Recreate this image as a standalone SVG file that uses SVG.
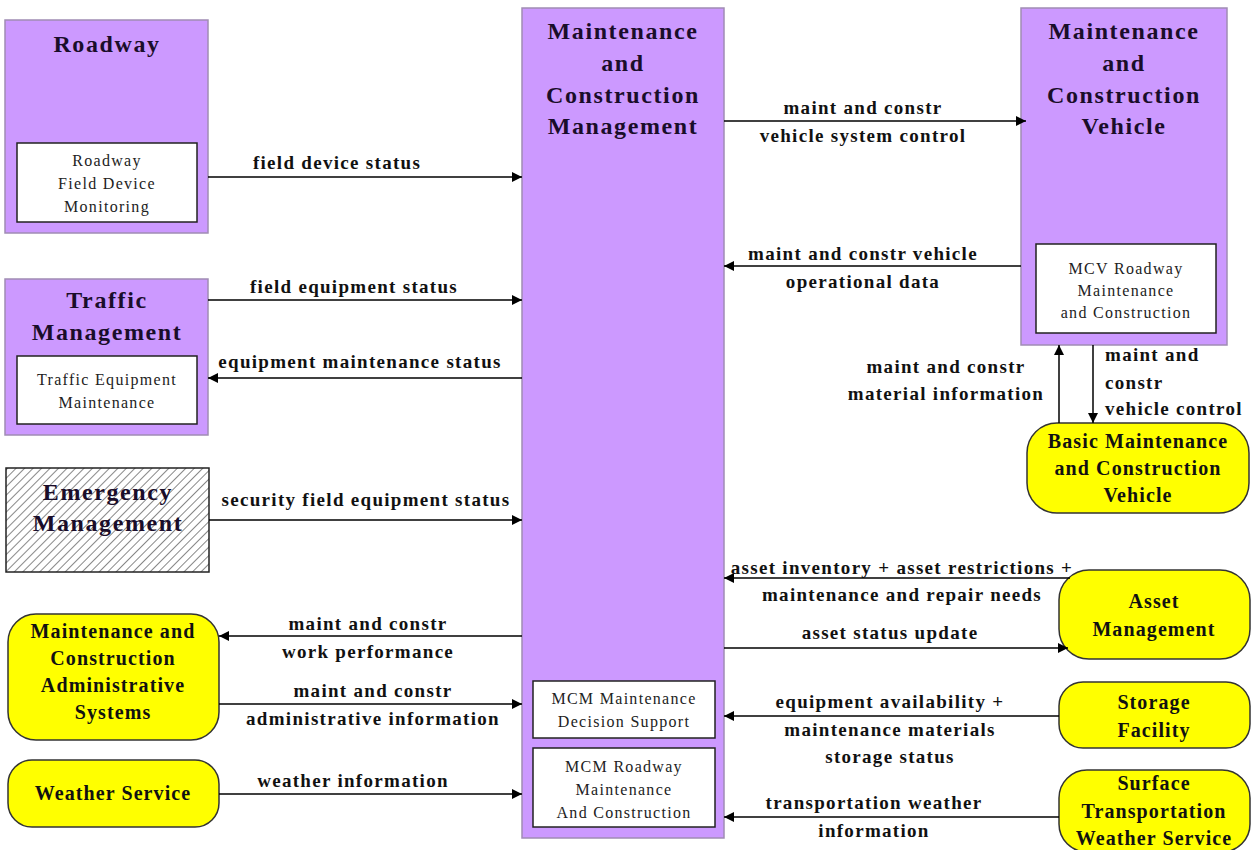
<svg xmlns="http://www.w3.org/2000/svg" width="1255" height="850" viewBox="0 0 1255 850">
<defs>
<marker id="ah" viewBox="0 0 10 10" refX="10" refY="5" markerWidth="10" markerHeight="10" markerUnits="userSpaceOnUse" orient="auto"><path d="M0,0 L10,5 L0,10 z" fill="#000"/></marker>
<pattern id="hatch" patternUnits="userSpaceOnUse" width="6" height="6" patternTransform="rotate(45)"><rect width="6" height="6" fill="#fff"/><line x1="0" y1="0" x2="0" y2="6" stroke="#888" stroke-width="2"/></pattern>
<style>
.p{fill:#cc99ff;stroke:#a08cb4;stroke-width:1.5}
.y{fill:#ffff00;stroke:#333;stroke-width:1.5}
.w{fill:#fff;stroke:#222;stroke-width:1.5}
.h{fill:url(#hatch);stroke:#222;stroke-width:1.5}
text{font-family:"Liberation Serif","Times New Roman","DejaVu Serif",serif}
.t{font-weight:bold;font-size:24px;letter-spacing:1.6px;fill:#1a0d2a;text-anchor:middle}
.ty{font-weight:bold;font-size:20px;letter-spacing:1.1px;fill:#111;text-anchor:middle}
.i{font-size:16px;letter-spacing:1.3px;fill:#222;text-anchor:middle}
.l{font-weight:bold;font-size:19px;letter-spacing:1.3px;fill:#111;text-anchor:middle}
.c{stroke:#000;stroke-width:1.5;fill:none;marker-end:url(#ah)}
</style>
</defs>
<rect width="1255" height="850" fill="#fff"/>

<g id="roadway">
<rect class="p" x="5" y="20" width="203" height="213"/>
<text class="t" x="107" y="52">Roadway</text>
<rect class="w" x="17" y="143" width="180" height="79"/>
<text class="i" x="107" y="166">Roadway</text>
<text class="i" x="107" y="189">Field Device</text>
<text class="i" x="107" y="212">Monitoring</text>
</g>

<g id="traffic">
<rect class="p" x="5" y="279" width="203" height="156"/>
<text class="t" x="107" y="308">Traffic</text>
<text class="t" x="107" y="340">Management</text>
<rect class="w" x="17" y="356" width="180" height="68"/>
<text class="i" x="107" y="385">Traffic Equipment</text>
<text class="i" x="107" y="408">Maintenance</text>
</g>

<g id="emergency">
<rect class="h" x="6" y="468" width="203" height="104"/>
<text class="t" x="108" y="500">Emergency</text>
<text class="t" x="108" y="531">Management</text>
</g>

<g id="mcas">
<rect class="y" x="8" y="614" width="211" height="126" rx="28"/>
<text class="ty" x="113" y="638">Maintenance and</text>
<text class="ty" x="113" y="665">Construction</text>
<text class="ty" x="113" y="692">Administrative</text>
<text class="ty" x="113" y="719">Systems</text>
</g>

<g id="weather">
<rect class="y" x="8" y="760" width="211" height="67" rx="24"/>
<text class="ty" x="113" y="800">Weather Service</text>
</g>

<g id="mcm">
<rect class="p" x="522" y="8" width="202" height="830"/>
<text class="t" x="623" y="39">Maintenance</text>
<text class="t" x="623" y="71">and</text>
<text class="t" x="623" y="103">Construction</text>
<text class="t" x="623" y="134">Management</text>
<rect class="w" x="533" y="681" width="182" height="57"/>
<text class="i" x="624" y="704">MCM Maintenance</text>
<text class="i" x="624" y="727">Decision  Support</text>
<rect class="w" x="533" y="748" width="182" height="79"/>
<text class="i" x="624" y="772">MCM Roadway</text>
<text class="i" x="624" y="795">Maintenance</text>
<text class="i" x="624" y="818">And Construction</text>
</g>

<g id="mcv">
<rect class="p" x="1021" y="8" width="206" height="337"/>
<text class="t" x="1124" y="39">Maintenance</text>
<text class="t" x="1124" y="71">and</text>
<text class="t" x="1124" y="103">Construction</text>
<text class="t" x="1124" y="134">Vehicle</text>
<rect class="w" x="1036" y="244" width="180" height="89"/>
<text class="i" x="1126" y="274">MCV Roadway</text>
<text class="i" x="1126" y="296">Maintenance</text>
<text class="i" x="1126" y="318">and Construction</text>
</g>

<g id="bmcv">
<rect class="y" x="1027" y="423" width="222" height="90" rx="30"/>
<text class="ty" x="1138" y="448">Basic Maintenance</text>
<text class="ty" x="1138" y="475">and Construction</text>
<text class="ty" x="1138" y="502">Vehicle</text>
</g>

<g id="asset">
<rect class="y" x="1059" y="570" width="191" height="89" rx="30"/>
<text class="ty" x="1154" y="608">Asset</text>
<text class="ty" x="1154" y="636">Management</text>
</g>

<g id="storage">
<rect class="y" x="1059" y="682" width="191" height="66" rx="24"/>
<text class="ty" x="1154" y="709">Storage</text>
<text class="ty" x="1154" y="737">Facility</text>
</g>

<g id="stws">
<rect class="y" x="1059" y="770" width="191" height="82" rx="28"/>
<text class="ty" x="1154" y="790">Surface</text>
<text class="ty" x="1154" y="818">Transportation</text>
<text class="ty" x="1154" y="845">Weather Service</text>
</g>

<g id="connectors">
<line class="c" x1="208" y1="177" x2="522" y2="177"/>
<text class="l" x="337" y="169">field device status</text>

<line class="c" x1="208" y1="300" x2="522" y2="300"/>
<text class="l" x="354" y="293">field equipment status</text>

<line class="c" x1="522" y1="378" x2="208" y2="378"/>
<text class="l" x="360" y="368">equipment maintenance status</text>

<line class="c" x1="209" y1="520" x2="522" y2="520"/>
<text class="l" x="366" y="506">security field equipment status</text>

<line class="c" x1="522" y1="636" x2="219" y2="636"/>
<text class="l" x="368" y="630">maint and constr</text>
<text class="l" x="368" y="658">work performance</text>

<line class="c" x1="219" y1="704" x2="522" y2="704"/>
<text class="l" x="373" y="697">maint and constr</text>
<text class="l" x="373" y="725">administrative information</text>

<line class="c" x1="219" y1="794" x2="522" y2="794"/>
<text class="l" x="353" y="787">weather information</text>

<line class="c" x1="724" y1="121" x2="1026" y2="121"/>
<text class="l" x="863" y="114">maint and constr</text>
<text class="l" x="863" y="142">vehicle system control</text>

<line class="c" x1="1021" y1="266" x2="724" y2="266"/>
<text class="l" x="863" y="260">maint and constr vehicle</text>
<text class="l" x="863" y="288">operational data</text>

<line class="c" x1="1059" y1="423" x2="1059" y2="345"/>
<text class="l" x="946" y="373">maint and constr</text>
<text class="l" x="946" y="400">material information</text>

<line class="c" x1="1093" y1="345" x2="1093" y2="423"/>
<text class="l" x="1105" y="361" style="text-anchor:start">maint and</text>
<text class="l" x="1105" y="389" style="text-anchor:start">constr</text>
<text class="l" x="1105" y="415" style="text-anchor:start">vehicle control</text>

<polyline class="c" points="1070,578 724,578"/>
<text class="l" x="902" y="574">asset inventory + asset restrictions +</text>
<text class="l" x="902" y="601">maintenance and repair needs</text>

<line class="c" x1="724" y1="648" x2="1068" y2="648"/>
<text class="l" x="890" y="639">asset status update</text>

<line class="c" x1="1059" y1="716" x2="724" y2="716"/>
<text class="l" x="890" y="708">equipment availability +</text>
<text class="l" x="890" y="736">maintenance materials</text>
<text class="l" x="890" y="763">storage status</text>

<line class="c" x1="1059" y1="817" x2="724" y2="817"/>
<text class="l" x="874" y="809">transportation weather</text>
<text class="l" x="874" y="837">information</text>
</g>
</svg>
